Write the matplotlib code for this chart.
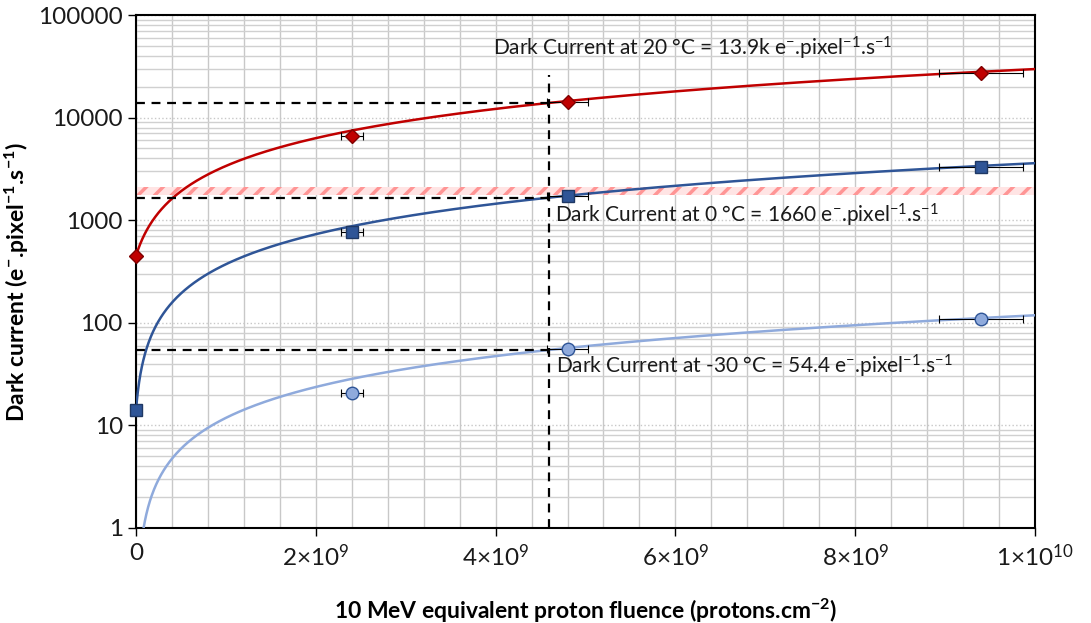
import matplotlib
matplotlib.use("Agg")
import matplotlib.pyplot as plt
import numpy as np

plt.rcParams['font.family'] = ['Lato', 'DejaVu Sans']
plt.rcParams['mathtext.fontset'] = 'custom'
plt.rcParams['mathtext.rm'] = 'Lato'
plt.rcParams['mathtext.it'] = 'Lato:italic'
plt.rcParams['mathtext.bf'] = 'Lato:bold'
plt.rcParams['hatch.linewidth'] = 2.5

# measured points (fluence in protons/cm2, dark current in e-/pixel/s)
fluence = [0, 2.4e9, 4.8e9, 9.4e9]
fluence_err = [0, 1.2e8, 2.3e8, 4.7e8]
dc_20C = [450, 6600, 14300, 27200]
dc_0C = [14, 770, 1720, 3300]
fluence_m30 = [2.4e9, 4.8e9, 9.4e9]
fluence_err_m30 = [1.2e8, 2.3e8, 4.7e8]
dc_m30C = [20.5, 55.6, 109]

# linear trend lines: intercept and value at the marked fluence
fit_intercept = [450, 14, 0]
mark_fluence = 4.594e9
mark_value = [13900, 1660, 54.4]
mark_text = ["Dark Current at 20 °C = 13.9k", "Dark Current at 0 °C = 1660",
             "Dark Current at -30 °C = 54.4"]
text_pos = [(3.97e9, 47600), (4.66e9, 1125), (4.67e9, 38)]

band = (1780, 2120)  # hatched band

colors = ['#c00000', '#2f5597', '#8faadc']
edges = ['#7f0000', '#1f3864', '#2f5597']

fig = plt.figure(figsize=(10.91, 6.23), dpi=100)
ax = fig.add_axes([136/1091, 1-528/623, 899/1091, 513/623])
ax.set_yscale('log')
ax.set_xlim(0, 1e10)
ax.set_ylim(1, 100000)

# grid
ax.set_xticks(np.arange(0, 1.01e10, 2e9))
ax.set_xticks(np.arange(0, 1.01e10, 4e8), minor=True)
ax.grid(True, which='both', axis='x', color='#c8c8c8', lw=1)
ax.grid(True, which='minor', axis='y', color='#d0d0d0', lw=1)
ax.grid(True, which='major', axis='y', color='#c8c8c8', lw=1, ls=':')
ax.set_axisbelow(True)

ax.axhspan(band[0], band[1], facecolor='#ffe4e4', edgecolor='#ff9595', hatch='//', lw=0, zorder=1)

# trend lines
xf = np.linspace(0, 1e10, 2000)
for i in range(3):
    slope = (mark_value[i] - fit_intercept[i]) / mark_fluence
    yf = fit_intercept[i] + slope * xf
    ax.plot(xf[yf > 0], yf[yf > 0], color=colors[i], lw=1.8, zorder=3)

# dashed markers
for i in range(3):
    ax.plot([0, mark_fluence], [mark_value[i], mark_value[i]], color='black',
            lw=1.6, dashes=(4, 3), zorder=4)
ax.plot([mark_fluence, mark_fluence], [1, 26000], color='black', lw=1.6, dashes=(4, 3), zorder=4)

# data with error bars
ax.errorbar(fluence, dc_20C, xerr=fluence_err, fmt='D', ms=7, mfc=colors[0], mec=edges[0],
            ecolor='black', elinewidth=0.8, capsize=3, capthick=0.8, zorder=5, clip_on=False)
ax.errorbar(fluence, dc_0C, xerr=fluence_err, fmt='s', ms=9, mfc=colors[1], mec=edges[1],
            ecolor='black', elinewidth=0.8, capsize=3, capthick=0.8, zorder=5, clip_on=False)
ax.errorbar(fluence_m30, dc_m30C, xerr=fluence_err_m30, fmt='o', ms=9, mfc=colors[2], mec=edges[2],
            ecolor='black', elinewidth=0.8, capsize=3, capthick=0.8, zorder=5, clip_on=False)

unit = r" e$^{-}$.pixel$^{-1}$.s$^{-1}$"
for i in range(3):
    ax.text(text_pos[i][0], text_pos[i][1], mark_text[i] + unit, fontsize=15,
            va='center', ha='left', color='#1a1a1a', zorder=6)

# ticks
ax.set_yticks([1, 10, 100, 1000, 10000, 100000])
ax.set_yticklabels(['1', '10', '100', '1000', '10000', '100000'])
ax.yaxis.set_minor_formatter(matplotlib.ticker.NullFormatter())
ax.set_xticklabels(['0', r'2$\times$10$^{9}$', r'4$\times$10$^{9}$', r'6$\times$10$^{9}$',
                    r'8$\times$10$^{9}$', r'1$\times$10$^{10}$'])
ax.tick_params(axis='both', which='major', labelsize=17.5, length=6, width=1, color='black',
               direction='out', colors='#1a1a1a')
ax.tick_params(axis='x', which='major', pad=5)
ax.tick_params(axis='both', which='minor', length=0)
for s in ax.spines.values():
    s.set_color('black')
    s.set_linewidth(1.5)

ax.set_xlabel(r"10 MeV equivalent proton fluence (protons.cm$\mathbf{^{-2}}$)", fontsize=16.5,
              fontweight='bold')
ax.xaxis.set_label_coords(0.5, -0.133)
ax.set_ylabel(r"Dark current (e$\mathbf{^{-}}$.pixel$\mathbf{^{-1}}$.s$\mathbf{^{-1}}$)", fontsize=16.5,
              fontweight='bold')
ax.yaxis.set_label_coords(-0.117, 0.48)

fig.savefig('out.png', dpi=100)
